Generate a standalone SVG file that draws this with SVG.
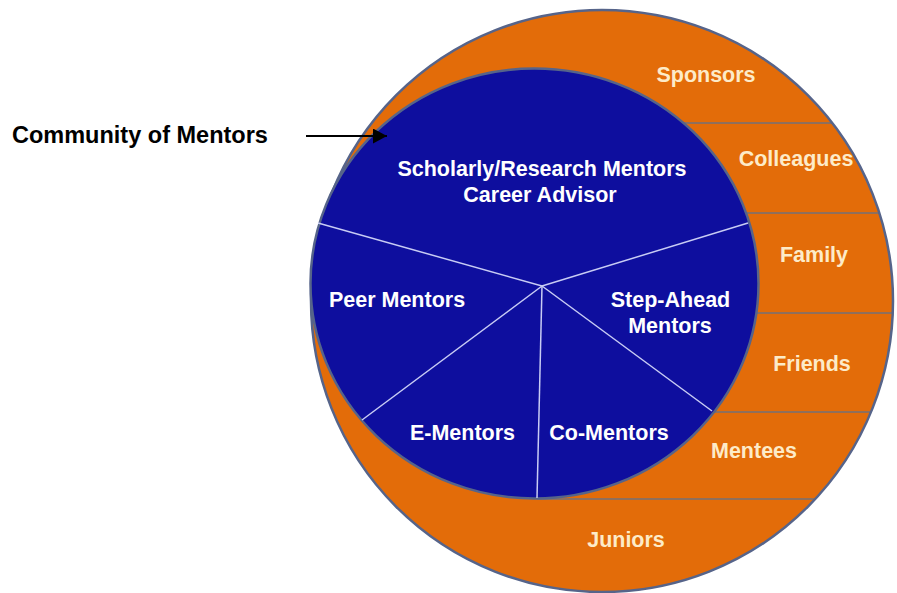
<svg xmlns="http://www.w3.org/2000/svg" width="897" height="593" viewBox="0 0 897 593">
<style>
.bl{font-family:"Liberation Sans",Arial,sans-serif;font-weight:bold;font-size:21.5px;fill:#ffffff;text-anchor:middle}
.or{font-family:"Liberation Sans",Arial,sans-serif;font-weight:bold;font-size:21.5px;fill:#fdebc8;text-anchor:middle}
.div{stroke:#8f6f5c;stroke-width:2}
.spoke{stroke:#c8ccf4;stroke-width:1.5}
</style>
<defs>
<clipPath id="oc"><circle cx="602" cy="301" r="291"/></clipPath>
<marker id="ah" markerWidth="14" markerHeight="15" refX="14" refY="7.5" orient="auto" markerUnits="userSpaceOnUse"><path d="M0,0 L14,7.5 L0,15 Z" fill="#000"/></marker>
</defs>
<rect width="897" height="593" fill="#fff"/>
<g id="outer-circle">
<circle cx="602" cy="301" r="291" fill="#e36c09"/>
<g clip-path="url(#oc)">
<line class="div" x1="537" y1="123" x2="900" y2="123"/>
<line class="div" x1="537" y1="213" x2="900" y2="213"/>
<line class="div" x1="537" y1="313" x2="900" y2="313"/>
<line class="div" x1="537" y1="412" x2="900" y2="412"/>
<line class="div" x1="537" y1="499" x2="900" y2="499"/>
</g>
<circle cx="602" cy="301" r="291" fill="none" stroke="#56648a" stroke-width="2.5"/>
</g>
<g id="inner-circle">
<ellipse cx="534.5" cy="283.5" rx="224" ry="215" fill="#0e0e9e" stroke="#56648a" stroke-width="2.5"/>
<line class="spoke" x1="542" y1="286" x2="318" y2="223"/>
<line class="spoke" x1="542" y1="286" x2="748" y2="223"/>
<line class="spoke" x1="542" y1="286" x2="362" y2="420"/>
<line class="spoke" x1="542" y1="286" x2="537" y2="498"/>
<line class="spoke" x1="542" y1="286" x2="712" y2="411"/>
</g>
<g id="label-scholarly"><text class="bl" x="542" y="176">Scholarly/Research Mentors</text><text class="bl" x="540" y="202">Career Advisor</text></g>
<g id="label-peer"><text class="bl" x="397" y="307">Peer Mentors</text></g>
<g id="label-stepahead"><text class="bl" x="670.5" y="307">Step-Ahead</text><text class="bl" x="670" y="333">Mentors</text></g>
<g id="label-emontors"><text class="bl" x="462.5" y="440">E-Mentors</text></g>
<g id="label-comentors"><text class="bl" x="609" y="440">Co-Mentors</text></g>
<g id="label-sponsors"><text class="or" x="706" y="82">Sponsors</text></g>
<g id="label-colleagues"><text class="or" x="796" y="166">Colleagues</text></g>
<g id="label-family"><text class="or" x="814" y="262">Family</text></g>
<g id="label-friends"><text class="or" x="812" y="371">Friends</text></g>
<g id="label-mentees"><text class="or" x="754" y="458">Mentees</text></g>
<g id="label-juniors"><text class="or" x="626" y="547">Juniors</text></g>
<g id="community-label"><text x="12" y="143" font-family="Liberation Sans, Arial, sans-serif" font-weight="bold" font-size="23.5" fill="#000">Community of Mentors</text></g>
<g id="connectors"><line x1="306" y1="136" x2="387" y2="136" stroke="#000" stroke-width="2" marker-end="url(#ah)"/></g>
</svg>
